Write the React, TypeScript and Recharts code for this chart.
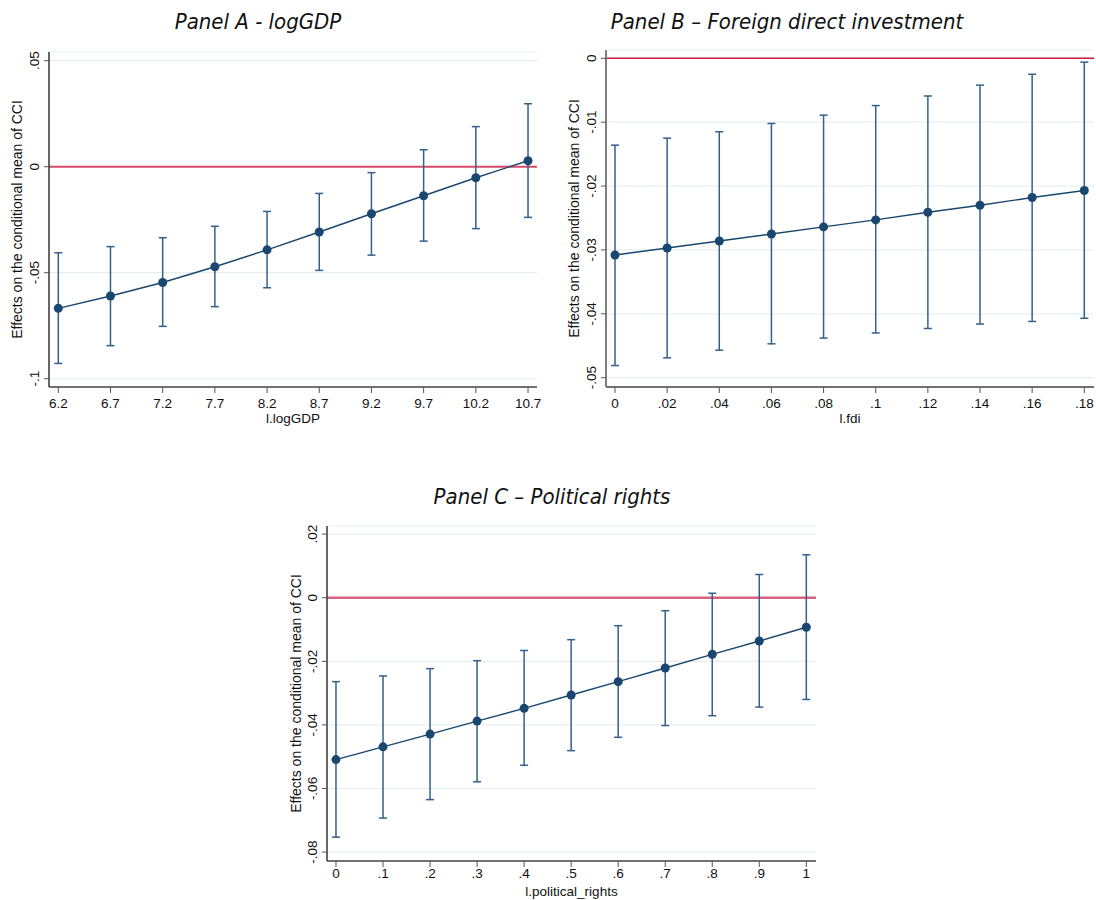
import React from 'react';
import { ComposedChart, Line, XAxis, YAxis, CartesianGrid, ReferenceLine, ErrorBar } from 'recharts';

// Panel A - logGDP
const xA = [6.2, 6.7, 7.2, 7.7, 8.2, 8.7, 9.2, 9.7, 10.2, 10.7];
const estA = [-0.0668, -0.061, -0.0546, -0.0472, -0.0392, -0.0308, -0.0222, -0.0137, -0.0052, 0.0028];
const lowA = [-0.0928, -0.0844, -0.0753, -0.066, -0.0571, -0.0489, -0.0417, -0.0351, -0.0292, -0.0239];
const highA = [-0.0406, -0.0377, -0.0335, -0.0281, -0.0211, -0.0126, -0.0028, 0.008, 0.0189, 0.0297];
const xTickLabelsA = ['6.2', '6.7', '7.2', '7.7', '8.2', '8.7', '9.2', '9.7', '10.2', '10.7'];
const yTicksA = [0.05, 0, -0.05, -0.1];
const yTickLabelsA = ['.05', '0', '-.05', '-.1'];

// Panel B - Foreign direct investment
const xB = [0, 0.02, 0.04, 0.06, 0.08, 0.1, 0.12, 0.14, 0.16, 0.18];
const estB = [-0.0308, -0.0297, -0.0286, -0.0275, -0.0264, -0.0253, -0.0241, -0.023, -0.0218, -0.0207];
const lowB = [-0.0481, -0.0469, -0.0457, -0.0447, -0.0438, -0.043, -0.0423, -0.0416, -0.0412, -0.0407];
const highB = [-0.0136, -0.0125, -0.0115, -0.0102, -0.0089, -0.0074, -0.0059, -0.0042, -0.0025, -0.0006];
const xTickLabelsB = ['0', '.02', '.04', '.06', '.08', '.1', '.12', '.14', '.16', '.18'];
const yTicksB = [0, -0.01, -0.02, -0.03, -0.04, -0.05];
const yTickLabelsB = ['0', '-.01', '-.02', '-.03', '-.04', '-.05'];

// Panel C - Political rights
const xC = [0, 0.1, 0.2, 0.3, 0.4, 0.5, 0.6, 0.7, 0.8, 0.9, 1];
const estC = [-0.0509, -0.0469, -0.0429, -0.0388, -0.0348, -0.0306, -0.0264, -0.0221, -0.0178, -0.0136, -0.0093];
const lowC = [-0.0753, -0.0693, -0.0635, -0.0579, -0.0527, -0.0481, -0.0439, -0.0402, -0.0371, -0.0344, -0.032];
const highC = [-0.0264, -0.0246, -0.0223, -0.0198, -0.0166, -0.0132, -0.0088, -0.0041, 0.0014, 0.0073, 0.0135];
const xTickLabelsC = ['0', '.1', '.2', '.3', '.4', '.5', '.6', '.7', '.8', '.9', '1'];
const yTicksC = [0.02, 0, -0.02, -0.04, -0.06, -0.08];
const yTickLabelsC = ['.02', '0', '-.02', '-.04', '-.06', '-.08'];

const Y_TITLE = 'Effects on the conditional mean of CCI';
const AXIS_FONT = "'Liberation Sans', Arial, Helvetica, sans-serif";
const TITLE_FONT = "'Liberation Sans Narrow', 'DejaVu Sans Condensed', 'Liberation Sans', sans-serif";
const FS = 13.5;
const FS_TITLE_Y = 14;

type Cfg = {
  title: string;
  titleCenter: number;
  titleTop: number;
  left: number;
  top: number;
  width: number;
  height: number;
  margin: { top: number; right: number; bottom: number; left: number };
  yWidth: number;
  xHeight: number;
  xs: number[];
  est: number[];
  low: number[];
  high: number[];
  xDomain: [number, number];
  yDomain: [number, number];
  xTickLabels: string[];
  yTicks: number[];
  yTickLabels: string[];
  xTitle: string;
  yTitleOffset: number;
  xTitleOffset: number;
  xTickMargin: number;
  refColor: string;
  refWidth: number;
  yAxisColor: string;
  yAxisWidth: number;
};

const makeYTick = (ticks: number[], labels: string[]) => (props: any) => {
  const { x, y, payload } = props;
  const idx = ticks.findIndex((t) => Math.abs(t - payload.value) < 1e-9);
  const label = idx >= 0 ? labels[idx] : String(payload.value);
  return (
    <text
      x={0}
      y={0}
      transform={`translate(${x},${y}) rotate(-90)`}
      textAnchor="middle"
      fontSize={FS}
      fill="#111"
      fontFamily={AXIS_FONT}
    >
      {label}
    </text>
  );
};

function Panel({ cfg }: { cfg: Cfg }) {
  const data = cfg.xs.map((x, i) => ({
    x,
    y: cfg.est[i],
    err: [cfg.est[i] - cfg.low[i], cfg.high[i] - cfg.est[i]],
  }));
  const YTick = makeYTick(cfg.yTicks, cfg.yTickLabels);
  return (
    <>
      <div
        style={{
          position: 'absolute',
          left: cfg.titleCenter - 250,
          top: cfg.titleTop,
          width: 500,
          textAlign: 'center',
          fontFamily: TITLE_FONT,
          fontStyle: 'italic',
          fontSize: 22,
          lineHeight: '24px',
          color: '#111',
          whiteSpace: 'nowrap',
        }}
      >
        {cfg.title}
      </div>
      <div style={{ position: 'absolute', left: cfg.left, top: cfg.top }}>
        <ComposedChart
          width={cfg.width}
          height={cfg.height}
          data={data}
          margin={cfg.margin}
          style={{ fontFamily: AXIS_FONT }}
        >
          <CartesianGrid horizontal vertical={false} stroke="#e6efef" strokeWidth={1.2} />
          <XAxis
            type="number"
            dataKey="x"
            domain={cfg.xDomain}
            ticks={cfg.xs}
            interval={0}
            allowDataOverflow
            tickFormatter={(v: number, i: number) => cfg.xTickLabels[i] ?? String(v)}
            tick={{ fontSize: FS, fill: '#111', fontFamily: AXIS_FONT }}
            tickSize={6}
            tickMargin={cfg.xTickMargin}
            height={cfg.xHeight}
            axisLine={{ stroke: '#444', strokeWidth: 1.4 }}
            tickLine={{ stroke: '#555', strokeWidth: 1 }}
            label={{
              value: cfg.xTitle,
              position: 'insideBottom',
              offset: cfg.xTitleOffset,
              style: { fontSize: FS, fill: '#111', fontFamily: AXIS_FONT, textAnchor: 'middle' },
            }}
          />
          <YAxis
            type="number"
            domain={cfg.yDomain}
            ticks={cfg.yTicks}
            interval={0}
            allowDataOverflow
            tick={<YTick />}
            tickSize={5}
            tickMargin={5}
            width={cfg.yWidth}
            axisLine={{ stroke: cfg.yAxisColor, strokeWidth: cfg.yAxisWidth }}
            tickLine={{ stroke: '#555', strokeWidth: 1 }}
            label={{
              value: Y_TITLE,
              angle: -90,
              position: 'insideLeft',
              offset: cfg.yTitleOffset,
              style: { fontSize: FS_TITLE_Y, fill: '#111', fontFamily: AXIS_FONT, textAnchor: 'middle' },
            }}
          />
          <ReferenceLine y={0} stroke={cfg.refColor} strokeWidth={cfg.refWidth} ifOverflow="extendDomain" />
          <Line
            type="linear"
            dataKey="y"
            stroke="#1a476f"
            strokeWidth={1.4}
            dot={{ r: 4.5, fill: '#1a476f', stroke: '#1a476f', strokeWidth: 0 }}
            activeDot={false}
            isAnimationActive={false}
          >
            <ErrorBar dataKey="err" direction="y" width={4} stroke="#34608c" strokeWidth={1.5} />
          </Line>
        </ComposedChart>
      </div>
    </>
  );
}

const cfgA: Cfg = {
  title: 'Panel A - logGDP',
  titleCenter: 258,
  titleTop: 10,
  left: 0,
  top: 0,
  width: 545,
  height: 440,
  margin: { top: 52, right: 8, bottom: 13, left: 0 },
  yWidth: 49,
  xHeight: 40,
  xs: xA,
  est: estA,
  low: lowA,
  high: highA,
  xDomain: [6.111, 10.786],
  yDomain: [-0.1039, 0.0541],
  xTickLabels: xTickLabelsA,
  yTicks: yTicksA,
  yTickLabels: yTickLabelsA,
  xTitle: 'l.logGDP',
  yTitleOffset: 17,
  xTitleOffset: 4,
  xTickMargin: 5,
  refColor: '#d84a6c',
  refWidth: 2,
  yAxisColor: '#333',
  yAxisWidth: 1.5,
};

const cfgB: Cfg = {
  title: 'Panel B \u2013 Foreign direct investment',
  titleCenter: 787,
  titleTop: 10,
  left: 556,
  top: 0,
  width: 540,
  height: 440,
  margin: { top: 50, right: 2, bottom: 13, left: 0 },
  yWidth: 50,
  xHeight: 40,
  xs: xB,
  est: estB,
  low: lowB,
  high: highB,
  xDomain: [-0.00345, 0.18372],
  yDomain: [-0.05146, 0.0013],
  xTickLabels: xTickLabelsB,
  yTicks: yTicksB,
  yTickLabels: yTickLabelsB,
  xTitle: 'l.fdi',
  yTitleOffset: 18,
  xTitleOffset: 4,
  xTickMargin: 5,
  refColor: '#d1163f',
  refWidth: 1.5,
  yAxisColor: '#808080',
  yAxisWidth: 2,
};

const cfgC: Cfg = {
  title: 'Panel C \u2013 Political rights',
  titleCenter: 552,
  titleTop: 485,
  left: 270,
  top: 470,
  width: 560,
  height: 430,
  margin: { top: 56, right: 14, bottom: 0, left: 0 },
  yWidth: 57,
  xHeight: 39,
  xs: xC,
  est: estC,
  low: lowC,
  high: highC,
  xDomain: [-0.0191, 1.0206],
  yDomain: [-0.0828, 0.02255],
  xTickLabels: xTickLabelsC,
  yTicks: yTicksC,
  yTickLabels: yTickLabelsC,
  xTitle: 'l.political_rights',
  yTitleOffset: 26,
  xTitleOffset: 4,
  xTickMargin: 1,
  refColor: '#d86280',
  refWidth: 2.5,
  yAxisColor: '#333',
  yAxisWidth: 1.5,
};

export default function App() {
  return (
    <div
      style={{
        position: 'absolute',
        left: 0,
        top: 0,
        width: 1096,
        height: 900,
        background: '#fff',
        overflow: 'hidden',
      }}
    >
      <Panel cfg={cfgA} />
      <Panel cfg={cfgB} />
      <Panel cfg={cfgC} />
    </div>
  );
}
